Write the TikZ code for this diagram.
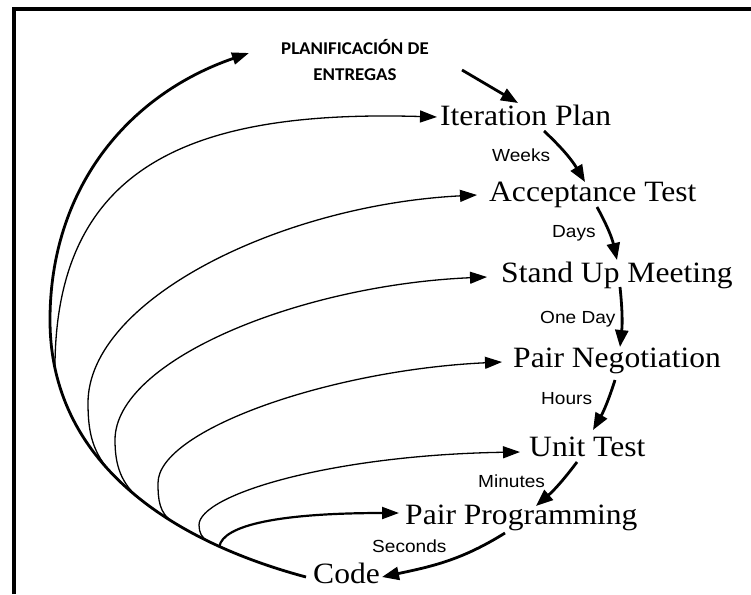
\documentclass[tikz,border=0pt]{standalone}
\usepackage{fontspec}
\setmainfont{Liberation Serif}
\newfontfamily\nodefont[FakeStretch=1.07]{Liberation Serif}
\newfontfamily\lblfont[FakeStretch=1.09]{Liberation Sans}
\newfontfamily\planfont[FakeStretch=1.05]{Carlito}
\usetikzlibrary{arrows.meta}
\begin{document}
\begin{tikzpicture}[x=1pt,y=1pt,
  stage/.style={anchor=base west, inner sep=0pt, font=\nodefont\fontsize{29.5}{29.5}\selectfont},
  lbl/.style={anchor=base west, inner sep=0pt, font=\lblfont\fontsize{17.5}{17.5}\selectfont},
  plan/.style={anchor=base, inner sep=0pt, font=\planfont\bfseries\fontsize{18}{18}\selectfont},
  flow/.style={line width=2.8pt, -{Triangle[length=17pt,width=13pt]}},
  bigarc/.style={line width=2.8pt, -{Triangle[length=17pt,width=12pt]}},
  loop/.style={line width=1.3pt, -{Triangle[length=17pt,width=12pt]}},
  loopthick/.style={line width=2.2pt, -{Triangle[length=17pt,width=12pt]}},
  frame/.style={line width=4pt, miter limit=10}
]
\useasboundingbox (0,0) rectangle (751,-594);
\draw[frame] (14,-594) -- (14,-9) -- (751,-9);

% stage nodes
\node[plan] (pl) at (355,-54) {PLANIFICACIÓN DE};
\node[plan] (en) at (355,-80) {ENTREGAS};
\node[stage] (ip) at (440,-125) {Iteration Plan};
\node[stage] (at) at (489,-201) {Acceptance Test};
\node[stage] (su) at (501,-282) {Stand Up Meeting};
\node[stage] (pn) at (513,-367) {Pair Negotiation};
\node[stage] (ut) at (529,-456) {Unit Test};
\node[stage] (pp) at (405,-524) {Pair Programming};
\node[stage] (cd) at (313,-583) {Code};

% time labels
\node[lbl] (wk) at (492,-161) {Weeks};
\node[lbl] (dy) at (552,-237) {Days};
\node[lbl] (od) at (540,-323) {One Day};
\node[lbl] (hr) at (541,-404) {Hours};
\node[lbl] (mn) at (478,-487) {Minutes};
\node[lbl] (sc) at (372,-552) {Seconds};

% right-hand chain
\draw[flow] ([shift={(107pt,10pt)}]en.base) -- ([shift={(78pt,22pt)}]ip.base west);
\draw[flow] ([shift={(104pt,-6pt)}]ip.base west) to[bend left=8] ([shift={(96pt,19pt)}]at.base west);
\draw[flow] ([shift={(108pt,-6pt)}]at.base west) to[bend left=8] ([shift={(116pt,22pt)}]su.base west);
\draw[flow] ([shift={(119pt,-5pt)}]su.base west) to[bend left=6] ([shift={(107pt,20pt)}]pn.base west);
\draw[flow] ([shift={(102pt,-13pt)}]pn.base west) to[bend left=6] ([shift={(64pt,26pt)}]ut.base west);
\draw[flow] ([shift={(48pt,-6pt)}]ut.base west) to[bend left=6] ([shift={(131pt,18pt)}]pp.base west);
\draw[flow] ([shift={(100pt,-9pt)}]pp.base west) to[out=-148,in=12] ([shift={(69pt,6pt)}]cd.base west);

% big outer arc
\coordinate (bl) at (50,-320);
\coordinate (bt) at (249,-53);
\draw[bigarc] ([shift={(-7pt,6pt)}]cd.base west) to[out=165,in=-90]
   coordinate[pos=0.22] (j6) coordinate[pos=0.25] (j5) coordinate[pos=0.35] (j4)
   coordinate[pos=0.45] (j3) coordinate[pos=0.55] (j2) coordinate[pos=0.88] (j1)
   (bl) to[out=90,in=199] (bt);

% feedback loops
\draw[loop] (j1) .. controls (55,-160) and (200,-110) .. ([shift={(-3pt,8pt)}]ip.base west);
\draw[loop] (j2) to[out=134,in=-90] (88,-403) .. controls (88,-300) and (280,-205) .. ([shift={(-12pt,6pt)}]at.base west);
\draw[loop] (j3) to[out=142,in=-90] (115,-440) .. controls (115,-360) and (300,-285) .. ([shift={(-14pt,5pt)}]su.base west);
\draw[loop] (j4) to[out=149,in=-90] (158,-483) .. controls (158,-430) and (330,-370) .. ([shift={(-11pt,5pt)}]pn.base west);
\draw[loop] (j5) to[out=155,in=-90] (199,-525) .. controls (199,-495) and (330,-455) .. ([shift={(-9pt,4pt)}]ut.base west);
\draw[loopthick] (j6) .. controls (223,-525) and (280,-513) .. ([shift={(-6pt,11pt)}]pp.base west);
\end{tikzpicture}
\end{document}
